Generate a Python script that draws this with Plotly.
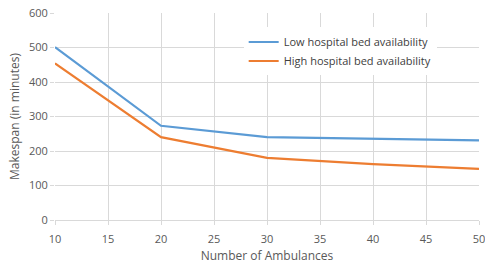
import plotly.graph_objects as go

ambulances = [10, 20, 30, 40, 50]
low_bed = [501, 273, 240, 235, 231]
high_bed = [454, 240, 180, 162, 148]

fig = go.Figure()
fig.add_trace(go.Scatter(x=ambulances, y=low_bed, mode="lines", name="Low hospital bed availability",
                         line=dict(color="#5B9BD5", width=2.2)))
fig.add_trace(go.Scatter(x=ambulances, y=high_bed, mode="lines", name="High hospital bed availability",
                         line=dict(color="#ED7D31", width=2.2)))

axis_font = dict(family="Open Sans, Lato, sans-serif", size=11, color="#595959")
fig.update_layout(
    width=485, height=266,
    margin=dict(l=55, r=6, t=13, b=46, autoexpand=False),
    paper_bgcolor="white", plot_bgcolor="white",
    font=axis_font,
    showlegend=True,
    legend=dict(x=0.445, y=0.93, xanchor="left", yanchor="top", bgcolor="white",
                font=dict(family="Open Sans, Lato, sans-serif", size=11, color="#404040"),
                itemwidth=30, tracegroupgap=4),
    xaxis=dict(range=[10, 50], dtick=5, showgrid=True, gridcolor="#D9D9D9", gridwidth=1,
               showline=True, linecolor="#D9D9D9", ticks="outside", ticklen=4, tickcolor="#D9D9D9",
               ticklabeloverflow="allow", automargin=False, ticklabelstandoff=5,
               zeroline=False, title=dict(text="Number of Ambulances", font=dict(size=12, color="#595959"), standoff=6),
               tickfont=axis_font, fixedrange=True),
    yaxis=dict(range=[0, 600], dtick=100, showgrid=True, gridcolor="#D9D9D9", gridwidth=1,
               showline=False, ticks="outside", ticklen=4, tickcolor="#D9D9D9", automargin=False,
               zeroline=False, title=dict(text="Makespan (in minutes)", font=dict(size=12, color="#595959"), standoff=6),
               tickfont=axis_font, fixedrange=True),
)
fig.write_html("out.html", config={"displayModeBar": False},
               post_script="document.body.style.margin='0';document.body.style.overflow='hidden';")
